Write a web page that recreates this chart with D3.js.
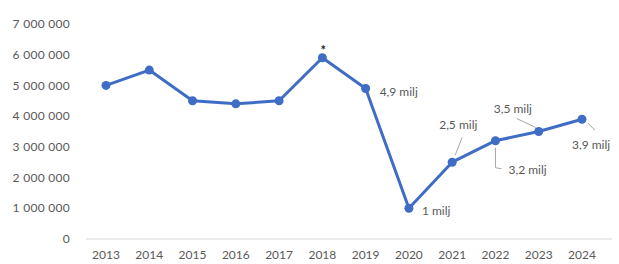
<!DOCTYPE html>
<html>
<head>
<meta charset="utf-8">
<script src="https://cdn.jsdelivr.net/npm/d3@7"></script>
<style>
    body { margin: 0; background: #fff; }
    text { font-family: Lato, Carlito, "Liberation Sans", Arial, sans-serif; fill: #595959; }
</style>
</head>
<body>
<div id="chart"></div>
<script>
// Data
var years = ["2013", "2014", "2015", "2016", "2017", "2018", "2019", "2020", "2021", "2022", "2023", "2024"];
var values = [5000000, 5500000, 4500000, 4400000, 4500000, 5900000, 4900000, 1000000, 2500000, 3200000, 3500000, 3900000];
var yTicks = [0, 1000000, 2000000, 3000000, 4000000, 5000000, 6000000, 7000000];

// Labels: year, text, text offset (dx, dy) and optional leader line
var labels = [
    { year: "2019", text: "4,9 milj", dx: 14, dy: 3, leader: null },
    { year: "2020", text: "1 milj", dx: 13, dy: 3, leader: null },
    { year: "2021", text: "2,5 milj", dx: -13, dy: -37, leader: [[10, -25], [3, -7]] },
    { year: "2022", text: "3,2 milj", dx: 13, dy: 29, leader: [[0, 7], [0, 27], [6, 28]] },
    { year: "2023", text: "3,5 milj", dx: -45, dy: -23, leader: [[-22, -13], [-3, -4]] },
    { year: "2024", text: "3,9 milj", dx: -10, dy: 26, leader: [[6, 4], [13, 11]] }
];

var width = 619, height = 264;
var margin = { top: 24, right: 13, bottom: 25, left: 84 };

var svg = d3.select("#chart")
    .append("svg")
    .attr("width", width)
    .attr("height", height);

var x = d3.scalePoint()
    .domain(years)
    .range([margin.left + 22, width - margin.right - 24]);

var y = d3.scaleLinear()
    .domain([0, 7000000])
    .range([height - margin.bottom, margin.top]);

var fmt = function (d) {
    return d3.format(",")(d).replace(/,/g, "\u2005");
};

// y axis labels
svg.append("g")
    .selectAll("text")
    .data(yTicks)
    .enter().append("text")
    .attr("x", 70)
    .attr("y", function (d) { return y(d); })
    .attr("dy", "0.35em")
    .attr("text-anchor", "end")
    .style("font-size", "12px")
    .style("letter-spacing", "0.3px")
    .text(fmt);

// baseline
svg.append("line")
    .attr("x1", margin.left + 2)
    .attr("x2", width - 7)
    .attr("y1", y(0))
    .attr("y2", y(0))
    .style("stroke", "#d9d9d9")
    .style("stroke-width", 1);

// x axis labels
svg.append("g")
    .selectAll("text")
    .data(years)
    .enter().append("text")
    .attr("x", function (d) { return x(d); })
    .attr("y", y(0) + 20)
    .attr("text-anchor", "middle")
    .style("font-size", "12px")
    .text(function (d) { return d; });

var points = years.map(function (d, i) { return { year: d, value: values[i] }; });

var line = d3.line()
    .x(function (d) { return x(d.year); })
    .y(function (d) { return y(d.value); });

svg.append("path")
    .datum(points)
    .attr("d", line)
    .style("fill", "none")
    .style("stroke", "#3f6dc5")
    .style("stroke-width", 3)
    .style("stroke-linejoin", "round");

svg.append("g")
    .selectAll("circle")
    .data(points)
    .enter().append("circle")
    .attr("cx", function (d) { return x(d.year); })
    .attr("cy", function (d) { return y(d.value); })
    .attr("r", 4.5)
    .style("fill", "#3f6dc5");

// asterisk over 2018
svg.append("text")
    .attr("x", x("2018") + 1)
    .attr("y", y(values[5]) - 3)
    .attr("text-anchor", "middle")
    .style("font-size", "13px")
    .style("font-weight", "bold")
    .style("fill", "#222")
    .text("*");

// data labels
var valueOf = function (yr) { return values[years.indexOf(yr)]; };

labels.forEach(function (l) {
    var px = x(l.year), py = y(valueOf(l.year));
    if (l.leader) {
        svg.append("polyline")
            .attr("points", l.leader.map(function (p) { return (px + p[0]) + "," + (py + p[1]); }).join(" "))
            .style("fill", "none")
            .style("stroke", "#a6a6a6")
            .style("stroke-width", 1);
    }
    svg.append("text")
        .attr("x", px + l.dx)
        .attr("y", py + l.dy)
        .attr("dy", "0.35em")
        .style("font-size", "12px")
        .text(l.text);
});
</script>
</body>
</html>
